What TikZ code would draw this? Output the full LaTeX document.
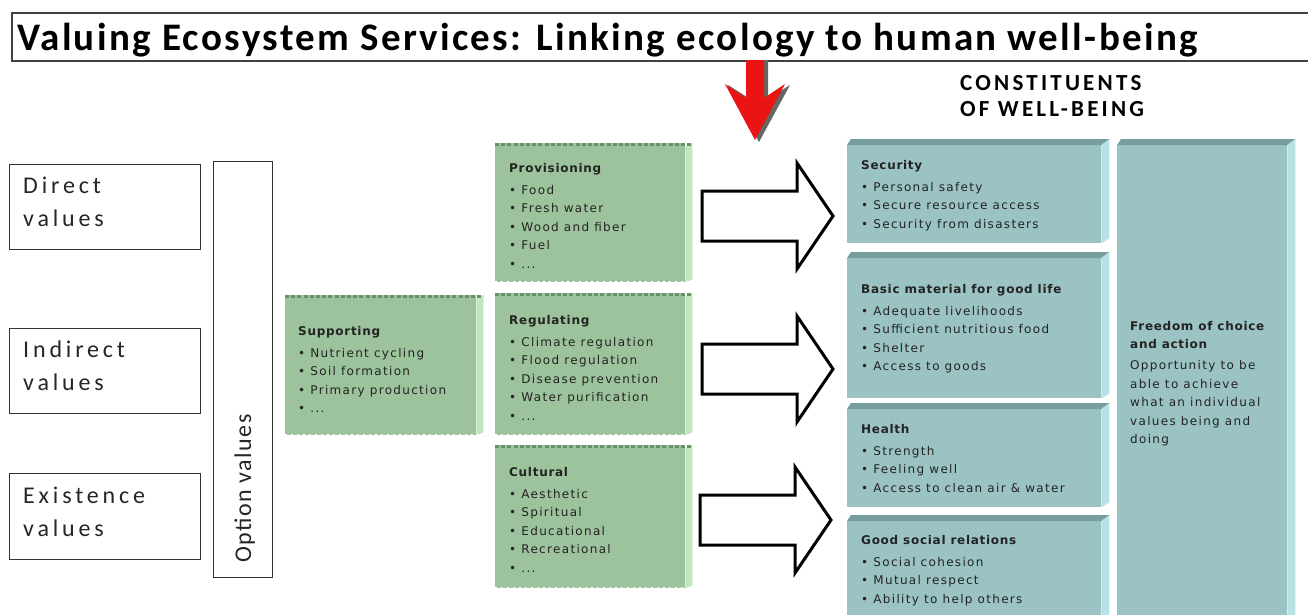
\documentclass[tikz,border=0pt]{standalone}
\usepackage{fontspec}
\setmainfont{DejaVu Sans}
\newfontfamily\calfont{Carlito}
\newfontfamily\titlefont[LetterSpace=6]{Carlito}
\newfontfamily\constfont[LetterSpace=14]{Carlito}
\newfontfamily\calwide[LetterSpace=16]{Carlito}
\newfontfamily\optfont[LetterSpace=6]{Carlito}
\newfontfamily\boxfont[LetterSpace=11,BoldFeatures={LetterSpace=6}]{DejaVu Sans}
\usetikzlibrary{calc}
\definecolor{greenF}{RGB}{157,195,157}
\definecolor{greenS}{RGB}{192,230,192}
\definecolor{greenD}{RGB}{105,145,105}
\definecolor{tealF}{RGB}{156,195,196}
\definecolor{tealT}{RGB}{118,158,158}
\definecolor{tealS}{RGB}{182,226,230}
\definecolor{txt}{RGB}{35,35,35}
\definecolor{redA}{RGB}{235,20,20}
\tikzset{
  x=1pt,y=-1pt,
  lbox/.style={draw=black!80,line width=1.3pt,fill=white,inner sep=0pt,anchor=north west},
  gface/.style={fill=greenF,inner sep=0pt,anchor=north west},
  tface/.style={fill=tealF,inner sep=0pt,anchor=north west},
  boxtext/.style={anchor=north west,inner sep=0pt,align=left,text=txt,
    font=\boxfont\fontsize{12}{18.5}\selectfont},
  lefttext/.style={anchor=base west,inner sep=0pt,align=left,text=black!85,
    font=\calwide\fontsize{24}{33}\selectfont},
  blockarrow/.style={draw=black,line width=3pt,fill=white,line join=miter},
}
\newcommand\mygbox[5]{%
  \node[gface,minimum width=#4pt,minimum height=#5pt] (#1) at (#2,#3) {};
  \fill[greenS] ([yshift=-3pt]#1.north east) -- ([xshift=7pt]#1.north east) -- ([xshift=7pt,yshift=3pt]#1.south east) -- (#1.south east) -- cycle;
  \draw[greenD,line width=2.6pt,dash pattern=on 4pt off 2.2pt] ([yshift=-1.3pt]#1.north west) -- ([yshift=-1.3pt,xshift=7pt]#1.north east);
  \draw[white,line width=1.4pt,dash pattern=on 2pt off 4pt] ([yshift=0.7pt]#1.south west) -- ([yshift=0.7pt,xshift=7pt]#1.south east);
}
\newcommand\mytbox[5]{%
  \node[tface,minimum width=#4pt,minimum height=#5pt] (#1) at (#2,#3) {};
  \fill[tealT] (#1.north west) -- ([xshift=4pt,yshift=6pt]#1.north west) -- ([xshift=8pt,yshift=6pt]#1.north east) -- (#1.north east) -- cycle;
  \fill[tealS] (#1.north east) -- ([xshift=8pt,yshift=6pt]#1.north east) -- ([xshift=8pt,yshift=5pt]#1.south east) -- (#1.south east) -- cycle;
}
\newcommand\myarrow[3]{%
  \coordinate (#1) at (#2,#3);
  \draw[blockarrow] (#1) -- ++(-36,-53) -- ++(0,28) -- ++(-95,0) -- ++(0,50) -- ++(95,0) -- ++(0,28) -- cycle;
}
\begin{document}
\begin{tikzpicture}
\useasboundingbox[fill=white] (0,0) rectangle (1308,614);

% title
\fill[black!45] (13,14) rectangle (1312,62);
\node[draw=black!75,line width=1.5pt,fill=white,anchor=north west,minimum width=1310pt,minimum height=48pt,inner sep=0pt] (titlebox) at (11,12) {};
\node[anchor=base west,inner sep=0pt,font=\titlefont\bfseries\fontsize{39}{42}\selectfont] (title) at (17,50) {Valuing Ecosystem Services: Linking ecology to human well-being};

% red arrow
\coordinate (redtop) at (755,60);
\fill[black!60] ($(redtop)+(-5,0)$) -- ++(18,0) -- ++(0,39) -- ++(22,-14) -- ++(-31,57) -- ++(-31,-57) -- ++(22,14) -- cycle;
\fill[redA] ($(redtop)+(-9,0)$) -- ++(18,0) -- ++(0,38) -- ++(21,-14) -- ++(-30,56) -- ++(-30,-56) -- ++(21,14) -- cycle;

\node[anchor=base west,inner sep=0pt,align=left,font=\constfont\bfseries\fontsize{23}{26}\selectfont] (const) at (960,116) {CONSTITUENTS\\OF WELL-BEING};

% left boxes
\node[lbox,minimum width=191pt,minimum height=85pt] (direct) at (9,164) {};
\node[lefttext] (directt) at (23,226) {Direct\\values};
\node[lbox,minimum width=191pt,minimum height=85pt] (indirect) at (9,328) {};
\node[lefttext] (indirectt) at (23,390) {Indirect\\values};
\node[lbox,minimum width=191pt,minimum height=86pt] (exist) at (9,473) {};
\node[lefttext] (existt) at (23,536) {Existence\\values};
\node[lbox,minimum width=59pt,minimum height=416pt] (option) at (213,161) {};
\node[rotate=90,anchor=base west,inner sep=0pt,text=black!85,font=\optfont\fontsize{24}{26}\selectfont] (optiont) at (251,563) {Option values};

% green boxes
\mygbox{supp}{285}{295}{191}{140}
\mygbox{prov}{495}{143}{190}{139}
\mygbox{regu}{495}{293}{190}{142}
\mygbox{cult}{495}{445}{190}{143}
\node[boxtext] (suppt) at (298,326) {\textbf{Supporting}\\[3.5pt]• Nutrient cycling\\• Soil formation\\• Primary production\\• ...};
\node[boxtext] (provt) at (509,163) {\textbf{Provisioning}\\[3.5pt]• Food\\• Fresh water\\• Wood and fiber\\• Fuel\\• ...};
\node[boxtext] (regut) at (509,315) {\textbf{Regulating}\\[3.5pt]• Climate regulation\\• Flood regulation\\• Disease prevention\\• Water purification\\• ...};
\node[boxtext] (cultt) at (509,467) {\textbf{Cultural}\\[3.5pt]• Aesthetic\\• Spiritual\\• Educational\\• Recreational\\• ...};

% block arrows
\myarrow{a1}{833}{216}
\myarrow{a2}{833}{369}
\myarrow{a3}{831}{520}

% teal boxes
\mytbox{sec}{847}{145}{254}{98}
\mytbox{basic}{847}{258}{254}{140}
\mytbox{health}{847}{409}{254}{98}
\mytbox{social}{847}{521}{254}{100}
\mytbox{free}{1117}{145}{170}{476}
\node[boxtext] (sect) at (861,160) {\textbf{Security}\\[3.5pt]• Personal safety\\• Secure resource access\\• Security from disasters};
\node[boxtext] (basict) at (861,284) {\textbf{Basic material for good life}\\[3.5pt]• Adequate livelihoods\\• Sufficient nutritious food\\• Shelter\\• Access to goods};
\node[boxtext] (healtht) at (861,424) {\textbf{Health}\\[3.5pt]• Strength\\• Feeling well\\• Access to clean air \& water};
\node[boxtext] (socialt) at (861,535) {\textbf{Good social relations}\\[3.5pt]• Social cohesion\\• Mutual respect\\• Ability to help others};
\node[boxtext] (freet) at (1130,321) {\textbf{Freedom of choice}\\\textbf{and action}\\[2.5pt]Opportunity to be\\able to achieve\\what an individual\\values being and\\doing};
\end{tikzpicture}
\end{document}
